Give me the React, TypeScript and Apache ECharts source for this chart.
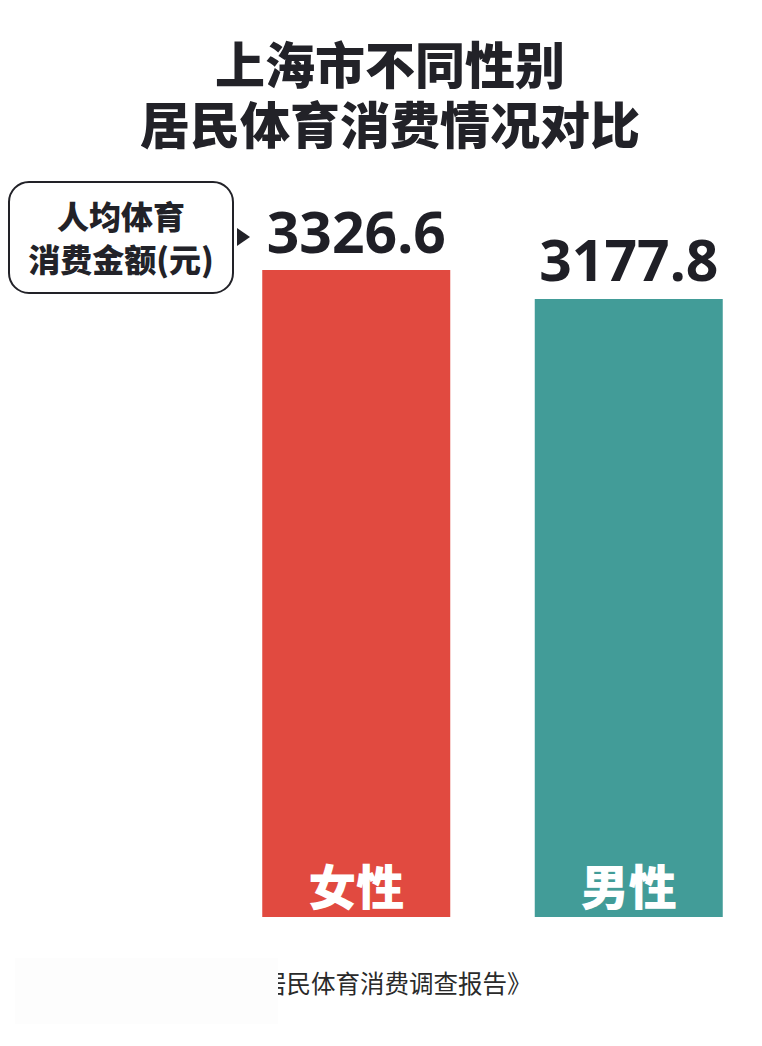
import { useEffect, useRef } from 'react'
import * as echarts from 'echarts'

const categories = ['女性', '男性']
const values = [3326.6, 3177.8]
const barColors = ['#E14A40', '#429C98']
const titleLines = ['上海市不同性别', '居民体育消费情况对比']
const unitLines = ['人均体育', '消费金额(元)']
const sourceText = '居民体育消费调查报告》'

const CJK = '"Noto Sans CJK SC", "Noto Sans", sans-serif'

export default function App() {
  const rootRef = useRef<HTMLDivElement | null>(null)
  useEffect(() => {
    if (!rootRef.current) return
    const chart = echarts.init(rootRef.current, null, { renderer: 'svg' })
    chart.setOption({
      animation: false,
      backgroundColor: '#ffffff',
      grid: { left: 220, top: 270, width: 545, bottom: 129 },
      xAxis: {
        type: 'category',
        data: categories,
        axisLine: { show: false },
        axisTick: { show: false },
        axisLabel: {
          inside: true,
          margin: 9,
          verticalAlign: 'bottom',
          color: '#ffffff',
          fontFamily: CJK,
          fontWeight: 900,
          fontSize: 48,
        },
        z: 10,
      },
      yAxis: { type: 'value', min: 0, max: 3326.6, show: false, splitLine: { show: false } },
      series: [
        {
          type: 'bar',
          barWidth: 188,
          data: values.map((v, i) => ({ value: v, itemStyle: { color: barColors[i] } })),
          label: {
            show: true,
            position: 'top',
            distance: 11,
            color: '#1f1f26',
            fontFamily: '"Noto Sans", sans-serif',
            fontWeight: 'bold',
            fontSize: 57,
            formatter: (p: any) => p.value.toFixed(1),
          },
        },
      ],
      graphic: [
        {
          type: 'text',
          x: 390,
          y: 92,
          style: {
            text: titleLines.join('\n'),
            fill: '#222228',
            font: `900 50px ${CJK}`,
            lineHeight: 60,
            align: 'center',
            verticalAlign: 'middle',
          },
        },
        {
          type: 'rect',
          shape: { x: 9, y: 182, width: 224, height: 111, r: 20 },
          style: { fill: '#ffffff', stroke: '#222228', lineWidth: 2 },
        },
        {
          type: 'text',
          x: 121,
          y: 236.5,
          style: {
            text: unitLines.join('\n'),
            fill: '#222228',
            font: `900 32px ${CJK}`,
            lineHeight: 43,
            align: 'center',
            verticalAlign: 'middle',
          },
        },
        {
          type: 'polygon',
          shape: { points: [[237, 228], [250, 237], [237, 246]] },
          style: { fill: '#222228' },
        },
        {
          type: 'text',
          x: 262,
          y: 982,
          style: {
            text: sourceText,
            fill: '#2a2a2a',
            font: `400 24.5px ${CJK}`,
            verticalAlign: 'middle',
          },
        },
        {
          type: 'rect',
          shape: { x: 15, y: 958, width: 263, height: 66 },
          style: { fill: '#fdfdfd' },
        },
      ],
    })
    return () => chart.dispose()
  }, [])

  return (
    <div style={{ position: 'fixed', left: 0, top: 0, width: 762, height: 1046, overflow: 'hidden' }}>
      <div ref={rootRef} style={{ width: 800, height: 1046 }} />
    </div>
  )
}
